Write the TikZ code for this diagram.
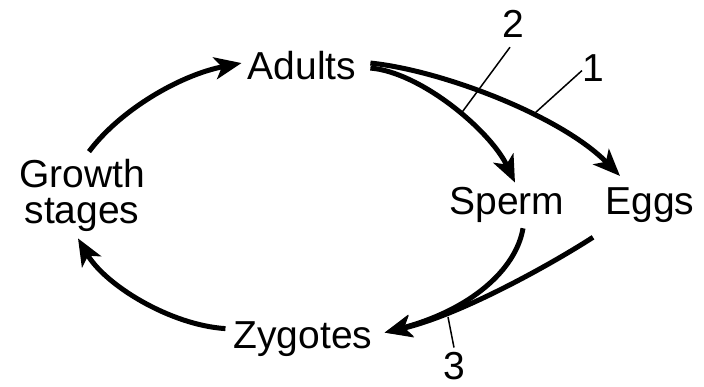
\documentclass[tikz,border=0pt]{standalone}
\usepackage{fontspec}
\setmainfont{Liberation Sans}
\usetikzlibrary{arrows.meta}
\tikzset{
  lbl/.style={inner sep=0pt, font=\fontsize{39}{36}\selectfont, align=center},
  arr/.style={line width=5pt, -{Stealth[length=27pt,width=22pt,inset=7pt]}},
  tick/.style={line width=1.5pt}
}
\begin{document}
\begin{tikzpicture}[x=1pt,y=-1pt]
\useasboundingbox (0,0) rectangle (704,387);
% nodes
\node[lbl, anchor=base] (adults) at (302,80) {Adults};
\node[lbl] (growth) at (82,195) {Growth\\stages};
\node[lbl, anchor=base] (sperm) at (507,215) {Sperm};
\node[lbl, anchor=base] (eggs) at (650,215) {Eggs};
\node[lbl, anchor=base] (zyg) at (303,348) {Zygotes};
\node[lbl, anchor=base] (n2) at (513,38) {2};
\node[lbl, anchor=base] (n1) at (593,82) {1};
\node[lbl, anchor=base] (n3) at (454,379) {3};
% connectors
\draw[arr] ([shift={(14,-3)}]adults.east) .. controls (440,70) and (560,115) .. ([shift={(-30,-12)}]eggs.north);
\draw[arr] ([shift={(14,2)}]adults.east) .. controls (420,72) and (490,130) .. ([shift={(8,-5)}]sperm.north);
\draw[arr] ([shift={(7,-7)}]growth.north) .. controls (120,110) and (180,75) .. ([shift={(-6,-3)}]adults.west);
\draw[arr] ([shift={(-8,-10)}]zyg.west) .. controls (170,325) and (105,285) .. ([shift={(-4,7)}]growth.south);
\draw[arr] ([shift={(16,5)}]sperm.south) .. controls (516,270) and (470,310) .. ([shift={(12,-6)}]zyg.east);
\draw[arr] ([shift={(-57,14)}]eggs.south) .. controls (550,265) and (460,315) .. ([shift={(12,-6)}]zyg.east);
% label leaders
\coordinate (c2) at (460,115);
\coordinate (c1) at (535,113);
\coordinate (c3) at (448,317);
\draw[tick] (c2) -- ([shift={(-3,9)}]n2.south);
\draw[tick] (c1) -- ([shift={(0,2)}]n1.west);
\draw[tick] (c3) -- ([shift={(0,-4)}]n3.north);
\end{tikzpicture}
\end{document}
